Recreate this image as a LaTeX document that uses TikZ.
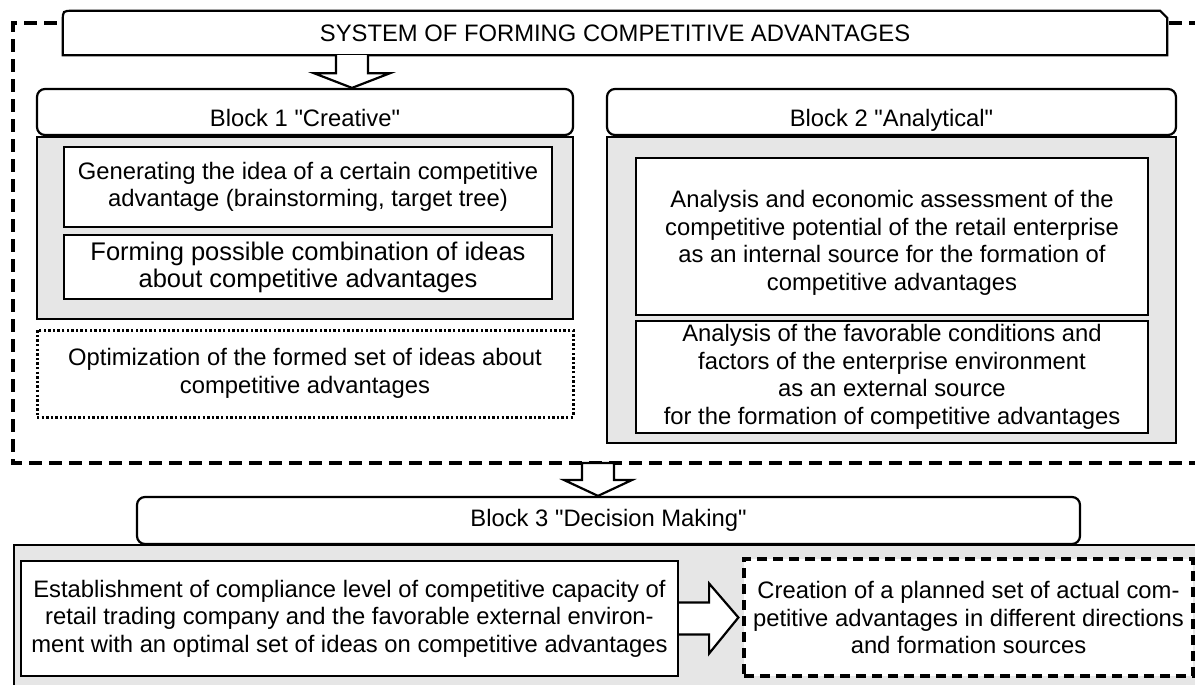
\documentclass[tikz,border=0pt]{standalone}
\usepackage{fontspec}
\setmainfont{Liberation Sans}
\usetikzlibrary{calc}
\definecolor{panelgray}{HTML}{E6E6E6}

\begin{document}
\begin{tikzpicture}[x=1pt,y=1pt,yscale=-1,xscale=1,
    every node/.style={font=\fontsize{23.8}{27.5}\selectfont,align=center,inner sep=0pt},
    header/.style={draw,line width=2.2pt,rounded corners=8pt,fill=white},
    panel/.style={draw,line width=2.2pt,fill=panelgray},
    ibox/.style={draw,line width=2.2pt,fill=white},
    dotbox/.style={draw,line width=3pt,dash pattern={on 2.4pt off 2.2pt},fill=white},
    dashbox/.style={draw,line width=3.2pt,dash pattern={on 10pt off 6pt},fill=white},
    frame/.style={line width=3.2pt,dash pattern={on 13pt off 7pt}},
    fatarrow/.style={draw,line width=2.2pt,fill=white,line join=miter}]
\useasboundingbox (0,0) rectangle (1195,685);

% system box and the dashed frame round blocks 1 and 2
\node (sys) [minimum width=1104pt,minimum height=44pt] at (615,33) {SYSTEM OF FORMING COMPETITIVE ADVANTAGES};
\draw [line width=2.2pt] (sys.south west) -- ($(sys.north west)+(0,10)$) .. controls (sys.north west) .. ($(sys.north west)+(10,0)$) -- ($(sys.north east)+(-7,0)$) -- ($(sys.north east)+(0,7)$) -- (sys.south east) -- cycle;
\coordinate (fnw) at (13,23);
\coordinate (fsw) at (13,463);
\draw [frame] ($(sys.west |- fnw)+(-6,0)$) -- (fnw) -- (fsw) -- (1200,463);
\draw [frame] ($(sys.east |- fnw)+(2,0)$) -- (1200,23);

% block 1
\node (b1h) [header,minimum width=536pt,minimum height=46pt,text height=30pt,text depth=0pt] at (305,112) {Block 1 \textquotedbl Creative\textquotedbl};
\node (b1p) [panel,minimum width=536pt,minimum height=182pt,anchor=north] at (b1h.south) {};
\node (gen) [ibox,minimum width=488pt,minimum height=80pt] at (308,187) {Generating the idea of a certain competitive\\advantage (brainstorming, target tree)};
\node (comb) [ibox,minimum width=488pt,minimum height=64pt,font=\fontsize{25.5}{27}\selectfont] at (308,267) {Forming possible combination of ideas\\about competitive advantages};
\node (opt) [dotbox,minimum width=536pt,minimum height=87pt] at (305,373.5) {Optimization of the formed set of ideas about\\competitive advantages};

% block 2
\node (b2h) [header,minimum width=569pt,minimum height=46pt,text height=30pt,text depth=0pt] at (891.5,112) {Block 2 \textquotedbl Analytical\textquotedbl};
\node (b2p) [panel,minimum width=569pt,minimum height=306pt,anchor=north] at (b2h.south) {};
\node (pot) [ibox,minimum width=512pt,minimum height=157pt] at (892,236.5) {\rule{0pt}{30pt}Analysis and economic assessment of the\\competitive potential of the retail enterprise\\as an internal source for the formation of\\competitive advantages};
\node (env) [ibox,minimum width=512pt,minimum height=112pt] at (892,377) {Analysis of the favorable conditions and\\factors of the enterprise environment\\as an external source\\for the formation of competitive advantages};

% block 3
\node (b3h) [header,minimum width=943pt,minimum height=47pt] at (608.5,520.5) {Block 3 \textquotedbl Decision Making\textquotedbl};
\node (b3p) [panel,minimum width=1190pt,minimum height=150pt,anchor=north west] at (13,544) {};
\node (est) [ibox,minimum width=657pt,minimum height=115pt] at (349.5,618.5) {Establishment of compliance level of competitive capacity of\\retail trading company and the favorable external environ-\\ment with an optimal set of ideas on competitive advantages};
\node (cre) [dashbox,minimum width=449pt,minimum height=117pt] at (968.5,617.5) {Creation of a planned set of actual com-\\petitive advantages in different directions\\and formation sources};

% block arrows
\coordinate (s1) at (352,0 |- sys.south);
\coordinate (t1) at (352,0 |- b1h.north);
\draw [fatarrow] ($(s1)+(-16,0)$) -- ($(s1)+(-16,18)$) -- ($(s1)+(-38,18)$) -- (t1) -- ($(s1)+(38,18)$) -- ($(s1)+(16,18)$) -- ($(s1)+(16,0)$);
\coordinate (s2) at (598,0 |- fsw);
\coordinate (t2) at (598,0 |- b3h.north);
\draw [fatarrow] ($(s2)+(-16,0)$) -- ($(s2)+(-16,17)$) -- ($(s2)+(-34,17)$) -- (t2) -- ($(s2)+(34,17)$) -- ($(s2)+(16,17)$) -- ($(s2)+(16,0)$) -- cycle;
\draw [fatarrow] ($(est.east)+(0,-16)$) -- ($(est.east)+(30,-16)$) -- ($(est.east)+(30,-35)$) -- ($(cre.west)+(-4,0)$) -- ($(est.east)+(30,35)$) -- ($(est.east)+(30,16)$) -- ($(est.east)+(0,16)$);
\end{tikzpicture}
\end{document}
